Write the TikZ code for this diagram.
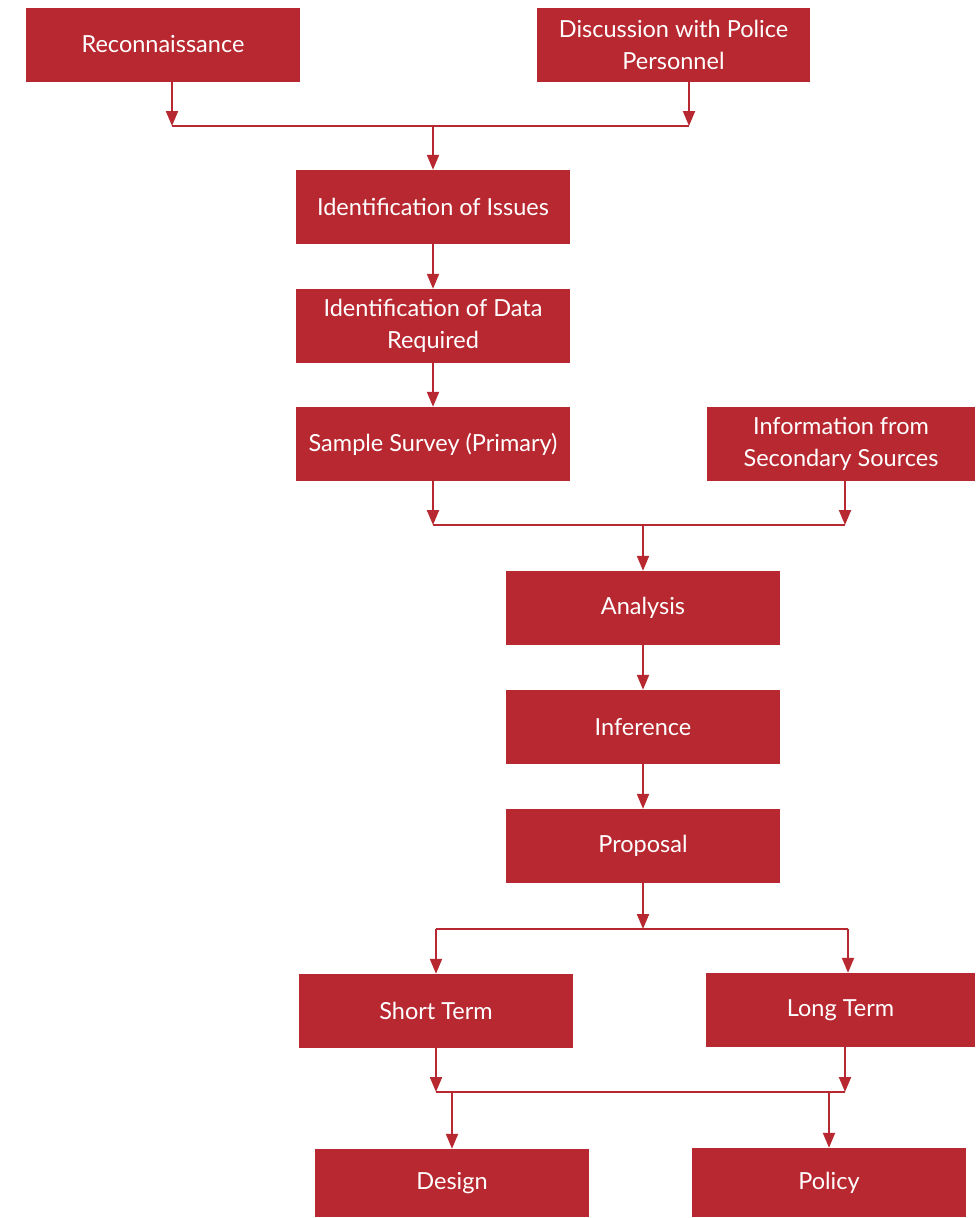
\documentclass[tikz,border=0pt]{standalone}
\usepackage{fontspec}
\setmainfont{Lato}
\usetikzlibrary{arrows.meta}
\definecolor{boxred}{HTML}{B82830}
\tikzset{
  box/.style={fill=boxred, draw=none, text=white, minimum width=274pt, minimum height=74pt,
    align=center, inner sep=2pt, font=\fontsize{23.5}{32}\selectfont},
  conn/.style={draw=boxred, line width=2pt},
  arr/.style={conn, -{Triangle[length=15pt,width=12pt]}}
}
\begin{document}
\begin{tikzpicture}[x=1pt,y=-1pt]
\useasboundingbox (0,0) rectangle (975,1218);
\node[box] (recon) at (163,44.5) {Reconnaissance};
\node[box, minimum width=273pt] (disc) at (673.5,45) {Discussion with Police\\Personnel};
\node[box] (issues) at (433,207) {Identification of Issues};
\node[box] (data) at (433,326) {Identification of Data\\Required};
\node[box] (survey) at (433,444) {Sample Survey (Primary)};
\node[box, minimum width=268pt] (info) at (841,444) {Information from\\Secondary Sources};
\node[box] (analysis) at (643,608) {Analysis};
\node[box] (inference) at (643,727) {Inference};
\node[box] (proposal) at (643,846) {Proposal};
\node[box] (short) at (436,1011) {Short Term};
\node[box, minimum width=269pt] (long) at (840.5,1010) {Long Term};
\node[box, minimum height=68pt] (design) at (452,1183) {Design};
\node[box, minimum height=69pt] (policy) at (829,1182.5) {Policy};

\coordinate (j1l) at (172,126);
\coordinate (j1r) at (689,126);
\coordinate (j1m) at (433,126);
\draw[arr] (recon.south -| j1l) -- (j1l);
\draw[arr] (disc.south -| j1r) -- (j1r);
\draw[conn] (j1l) -- (j1r);
\draw[arr] (j1m) -- (issues.north);
\draw[arr] (issues) -- (data);
\draw[arr] (data) -- (survey);

\coordinate (j2l) at (433,525);
\coordinate (j2r) at (845,525);
\coordinate (j2m) at (643,525);
\draw[arr] (survey.south -| j2l) -- (j2l);
\draw[arr] (info.south -| j2r) -- (j2r);
\draw[conn] (j2l) -- (j2r);
\draw[arr] (j2m) -- (analysis.north);
\draw[arr] (analysis) -- (inference);
\draw[arr] (inference) -- (proposal);

\coordinate (j3m) at (643,929);
\coordinate (j3l) at (436,929);
\coordinate (j3r) at (848,929);
\draw[arr] (proposal.south) -- (j3m);
\draw[conn] (j3l) -- (j3r);
\draw[arr] (j3l) -- (short.north -| j3l);
\draw[arr] (j3r) -- (long.north -| j3r);

\coordinate (j4l) at (436,1092);
\coordinate (j4r) at (845,1092);
\coordinate (j4a) at (452,1092);
\coordinate (j4b) at (829,1092);
\draw[arr] (short.south -| j4l) -- (j4l);
\draw[arr] (long.south -| j4r) -- (j4r);
\draw[conn] (j4l) -- (j4r);
\draw[arr] (j4a) -- (design.north -| j4a);
\draw[arr] (j4b) -- (policy.north -| j4b);
\end{tikzpicture}
\end{document}
